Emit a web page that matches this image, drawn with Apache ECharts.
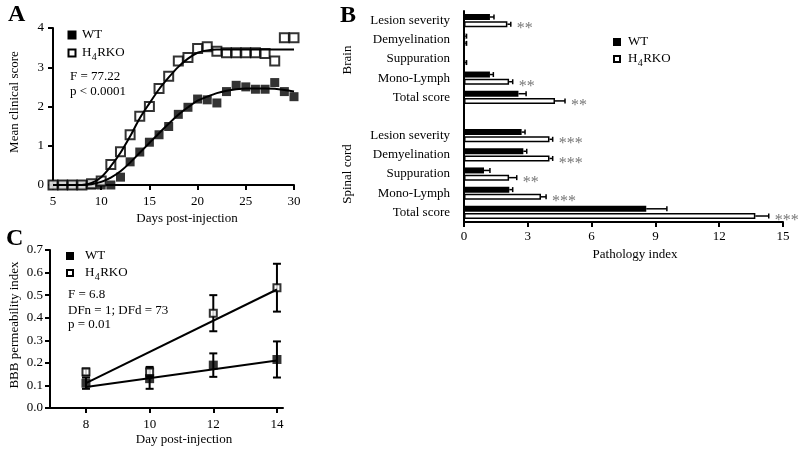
<!DOCTYPE html>
<html><head><meta charset="utf-8">
<script src="https://cdn.jsdelivr.net/npm/echarts@6/dist/echarts.min.js"></script>
<style>html,body{margin:0;padding:0;background:#fff}#c{width:800px;height:455px}</style>
</head><body><div id="c"></div>
<script>
// ---------- Panel A: clinical score ----------
const daysA = [5,6,7,8,9,10,11,12,13,14,15,16,17,18,19,20,21,22,23,24,25,26,27,28,29,30];
const wtScoreA = [0,0,0,0,0,0,0,0.2,0.59,0.84,1.09,1.28,1.49,1.8,1.98,2.19,2.17,2.09,2.38,2.54,2.5,2.44,2.44,2.61,2.38,2.25];
const koScoreA = [0,0,0,0,0.03,0.1,0.52,0.85,1.28,1.75,2.0,2.46,2.77,3.16,3.25,3.48,3.52,3.41,3.37,3.37,3.37,3.37,3.35,3.16,3.75,3.75];
const wtFitA = [0,0,0,0,0.02,0.08,0.19,0.35,0.57,0.82,1.07,1.32,1.56,1.79,1.98,2.15,2.25,2.34,2.4,2.44,2.46,2.46,2.46,2.45,2.42,2.38];
const koFitA = [0,0,0,0,0.05,0.2,0.48,0.82,1.24,1.7,2.08,2.44,2.74,3.01,3.22,3.37,3.43,3.45,3.45,3.45,3.45,3.45,3.45,3.45,3.45,3.45];

// ---------- Panel B: pathology index ----------
const pathCats = ['Lesion severity','Demyelination','Suppuration','Mono-Lymph','Total score','','Lesion severity','Demyelination','Suppuration','Mono-Lymph','Total score'];
const wtPath = [1.22,0.06,0,1.22,2.56,null,2.71,2.79,0.94,2.13,8.57];
const wtPathErr = [0.19,0.06,0,0.16,0.36,null,0.16,0.16,0.28,0.16,0.97];
const koPath = [2.04,0.06,0.05,2.12,4.28,null,4.02,4.02,2.12,3.62,13.7];
const koPathErr = [0.16,0.06,0.07,0.17,0.47,null,0.15,0.15,0.36,0.24,0.63];
const sigPath = ['**','','','**','**','','***','***','**','***','***'];

// ---------- Panel C: BBB permeability ----------
const daysC = [8,10,12,14];
const wtBBB = [0.11,0.13,0.19,0.215];
const wtBBBErr = [0.025,0.045,0.052,0.08];
const koBBB = [0.16,0.16,0.42,0.533];
const koBBBErr = [0.015,0.022,0.08,0.106];
const fitDaysC = [8,14];
const wtFitC = [0.093,0.21];
const koFitC = [0.11,0.525];
const xTicksC = [8,10,12,14];

const FONT = '"Liberation Serif","Times New Roman",serif';
const BAR_W = 6, BAR_GAP_PX = 1.2;

const chart = echarts.init(document.getElementById('c'), null, {renderer:'canvas'});

const axisLineStyle = {show:true, lineStyle:{color:'#000', width:2}};
const tickStyle = {show:true, length:5, lineStyle:{color:'#000', width:2}};
const labelStyle = {color:'#000', fontFamily:FONT, fontSize:13};

function pairs(xs, ys){ return xs.map((x,i)=>[x, ys[i]]); }

function pathErrItem(vals, errs){
  return vals.map((v,i)=> v==null ? [NaN, i, NaN] : [v, i, errs[i]]);
}
function renderPathErr(offset, withSig){
  return function(params, api){
    const v = api.value(0), c = api.value(1), e = api.value(2);
    if (isNaN(v) || (v === 0 && e === 0)) return null;
    const p0 = api.coord([v, c]);
    const p1 = api.coord([v + e, c]);
    const y = p0[1] + offset;
    const children = [
      {type:'line', shape:{x1:p0[0], y1:y, x2:p1[0], y2:y}, style:{stroke:'#000', lineWidth:1.5}},
      {type:'line', shape:{x1:p1[0], y1:y-2.5, x2:p1[0], y2:y+2.5}, style:{stroke:'#000', lineWidth:1.5}}
    ];
    const s = withSig ? sigPath[params.dataIndex] : '';
    if (s) children.push({type:'text', x:p1[0]+6, y:y+5, style:{text:s, fill:'#777', font:'16px '+FONT, align:'left', verticalAlign:'middle'}});
    return {type:'group', children};
  };
}
function renderVErr(params, api){
  const x = api.value(0), y = api.value(1), e = api.value(2);
  const lo = api.coord([x, y - e]), hi = api.coord([x, y + e]);
  const hw = 4;
  return {type:'group', children:[
    {type:'line', shape:{x1:lo[0], y1:lo[1], x2:hi[0], y2:hi[1]}, style:{stroke:'#000', lineWidth:2}},
    {type:'line', shape:{x1:lo[0]-hw, y1:lo[1], x2:lo[0]+hw, y2:lo[1]}, style:{stroke:'#000', lineWidth:2}},
    {type:'line', shape:{x1:hi[0]-hw, y1:hi[1], x2:hi[0]+hw, y2:hi[1]}, style:{stroke:'#000', lineWidth:2}}
  ]};
}

function txt(x, y, text, opts){
  opts = opts || {};
  return {type:'text', x, y, rotation: opts.rot || 0,
    style:{text, fill: opts.fill || '#000', font: (opts.weight||'normal')+' '+(opts.size||13)+'px '+FONT,
      align: opts.align || 'left', verticalAlign: opts.va || 'middle'}};
}
function koLabel(x, y, size){
  size = size || 13;
  return [
    txt(x, y, 'H', {size}),
    txt(x + size*0.72 + 0.3, y + 4, '4', {size: size-3}),
    txt(x + size*0.72 + (size-3)*0.5 + 0.8, y, 'RKO', {size})
  ];
}
function filledSq(x, y, s){ return {type:'rect', shape:{x:x-s/2, y:y-s/2, width:s, height:s}, style:{fill:'#000'}}; }
function openSq(x, y, s){ return {type:'rect', shape:{x:x-s/2+1, y:y-s/2+1, width:s-2, height:s-2}, style:{fill:'#fff', stroke:'#000', lineWidth:2}}; }

const graphics = [
  txt(8, 15, 'A', {size:24, weight:'bold'}),
  txt(340, 16, 'B', {size:24, weight:'bold'}),
  txt(6, 239, 'C', {size:24, weight:'bold'}),
  // panel A legend & stats
  filledSq(72, 35, 9), txt(82, 35, 'WT'),
  openSq(72, 53, 9), ...koLabel(82, 53),
  txt(70, 77, 'F = 77.22'), txt(70, 92, 'p < 0.0001'),
  // panel A axis titles
  txt(187, 219, 'Days post-injection', {align:'center'}),
  txt(15, 102, 'Mean clinical score', {align:'center', rot:Math.PI/2}),
  // panel B legend
  filledSq(617, 42, 8), txt(628, 42, 'WT'),
  openSq(617, 59, 8), ...koLabel(628, 59),
  txt(635, 255, 'Pathology index', {align:'center'}),
  txt(348, 60, 'Brain', {align:'center', rot:Math.PI/2}),
  txt(348, 174, 'Spinal cord', {align:'center', rot:Math.PI/2}),
  // panel C legend & stats
  filledSq(70, 256, 8), txt(85, 256, 'WT'),
  openSq(70, 273, 8), ...koLabel(85, 273),
  txt(68, 295, 'F = 6.8'), txt(68, 311, 'DFn = 1; DFd = 73'), txt(68, 325, 'p = 0.01'),
  txt(184, 440, 'Day post-injection', {align:'center'}),
  txt(15, 325, 'BBB permeability index', {align:'center', rot:Math.PI/2})
];

const option = {
  animation:false,
  backgroundColor:'#fff',
  grid:[
    {left:53, top:28, width:241, height:157},
    {left:464, top:11, width:319, height:211},
    {left:50, top:250, width:233, height:158}
  ],
  xAxis:[
    {gridIndex:0, type:'value', min:5, max:30, interval:5, axisLine:axisLineStyle, axisTick:tickStyle,
      axisLabel:{...labelStyle, margin:10}, splitLine:{show:false}},
    {gridIndex:1, type:'value', min:0, max:15, interval:3, axisLine:axisLineStyle, axisTick:tickStyle,
      axisLabel:{...labelStyle, margin:8}, splitLine:{show:false}},
    {gridIndex:2, type:'value', min:6.87, max:14.19, axisLine:axisLineStyle,
      axisTick:{...tickStyle, customValues:xTicksC},
      axisLabel:{...labelStyle, margin:10, customValues:xTicksC}, splitLine:{show:false}}
  ],
  yAxis:[
    {gridIndex:0, type:'value', min:0, max:4, interval:1, axisLine:axisLineStyle, axisTick:tickStyle,
      axisLabel:{...labelStyle, margin:9}, splitLine:{show:false}},
    {gridIndex:1, type:'category', data:pathCats, inverse:true, axisLine:{...axisLineStyle, onZero:false}, axisTick:{show:false},
      axisLabel:{...labelStyle, margin:14}, splitLine:{show:false}},
    {gridIndex:2, type:'value', min:0, max:0.7, interval:0.1, axisLine:axisLineStyle, axisTick:tickStyle,
      axisLabel:{...labelStyle, margin:7, formatter:v=>v.toFixed(1)}, splitLine:{show:false}}
  ],
  series:[
    // Panel A
    {type:'line', xAxisIndex:0, yAxisIndex:0, data:pairs(daysA, wtFitA), smooth:0.3, symbol:'none',
      lineStyle:{color:'#000', width:2}, z:5},
    {type:'line', xAxisIndex:0, yAxisIndex:0, data:pairs(daysA, koFitA), smooth:0.3, symbol:'none',
      lineStyle:{color:'#000', width:2}, z:5},
    {type:'scatter', name:'WT', xAxisIndex:0, yAxisIndex:0, data:pairs(daysA, wtScoreA), symbol:'rect', symbolSize:9,
      itemStyle:{color:'#000'}, z:3},
    {type:'scatter', name:'H4RKO', xAxisIndex:0, yAxisIndex:0, data:pairs(daysA, koScoreA), symbol:'rect', symbolSize:9,
      itemStyle:{color:'#fff', borderColor:'#000', borderWidth:2}, z:4},
    // Panel B
    {type:'bar', name:'WT', xAxisIndex:1, yAxisIndex:1, data:wtPath, barWidth:BAR_W, barGap:(BAR_GAP_PX/BAR_W*100)+'%',
      itemStyle:{color:'#000'}},
    {type:'bar', name:'H4RKO', xAxisIndex:1, yAxisIndex:1, data:koPath, barWidth:BAR_W,
      itemStyle:{color:'#fff', borderColor:'#000', borderWidth:1.5}},
    {type:'custom', xAxisIndex:1, yAxisIndex:1, data:pathErrItem(wtPath, wtPathErr), encode:{x:0, y:1},
      renderItem:renderPathErr(-(BAR_W+BAR_GAP_PX)/2, false), z:4},
    {type:'custom', xAxisIndex:1, yAxisIndex:1, data:pathErrItem(koPath, koPathErr), encode:{x:0, y:1},
      renderItem:renderPathErr((BAR_W+BAR_GAP_PX)/2, true), z:4},
    // Panel C
    {type:'custom', xAxisIndex:2, yAxisIndex:2, data:daysC.map((d,i)=>[d, koBBB[i], koBBBErr[i]]), encode:{x:0, y:1},
      renderItem:renderVErr, z:2},
    {type:'custom', xAxisIndex:2, yAxisIndex:2, data:daysC.map((d,i)=>[d, wtBBB[i], wtBBBErr[i]]), encode:{x:0, y:1},
      renderItem:renderVErr, z:2},
    {type:'line', xAxisIndex:2, yAxisIndex:2, data:pairs(fitDaysC, wtFitC), symbol:'none', lineStyle:{color:'#000', width:2}, z:5},
    {type:'line', xAxisIndex:2, yAxisIndex:2, data:pairs(fitDaysC, koFitC), symbol:'none', lineStyle:{color:'#000', width:2}, z:5},
    {type:'scatter', name:'H4RKO', xAxisIndex:2, yAxisIndex:2, data:pairs(daysC, koBBB), symbol:'rect', symbolSize:7,
      itemStyle:{color:'#fff', borderColor:'#000', borderWidth:2}, z:3},
    {type:'scatter', name:'WT', xAxisIndex:2, yAxisIndex:2, data:pairs(daysC, wtBBB), symbol:'rect', symbolSize:9,
      itemStyle:{color:'#000'}, z:4}
  ],
  graphic: graphics
};
chart.setOption(option);
</script></body></html>
